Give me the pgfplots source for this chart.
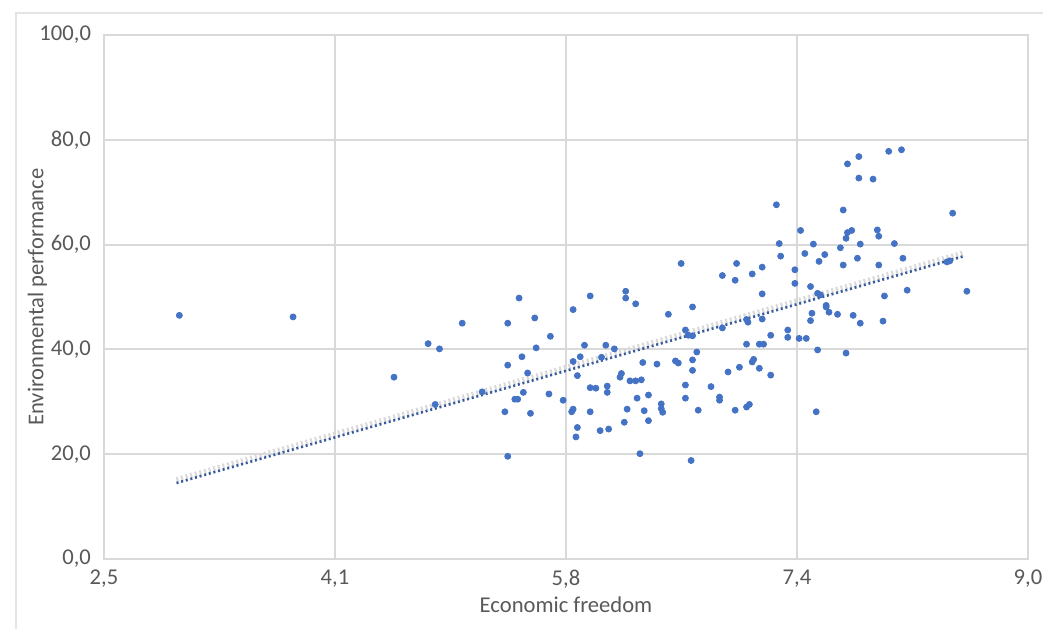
\documentclass[border=0pt]{standalone}
\usepackage{fontspec}
\setmainfont{Carlito}
\usepackage{pgfplots}
\pgfplotsset{compat=1.18}
\definecolor{txtgray}{RGB}{89,89,89}
\definecolor{gridgray}{RGB}{217,217,217}
\definecolor{ptblue}{RGB}{68,114,196}
\begin{document}
\begin{tikzpicture}
\begin{axis}[
  scale only axis,
  width=462pt, height=262pt,
  xmin=2.5, xmax=9.0, ymin=0, ymax=100,
  xtick={2.5,4.125,5.75,7.375,9.0},
  xticklabels={{2,5},{4,1},{5,8},{7,4},{9,0}},
  ytick={0,20,40,60,80,100},
  yticklabels={{0,0},{20,0},{40,0},{60,0},{80,0},{100,0}},
  grid=major,
  major grid style={gridgray, line width=1pt},
  axis line style={gridgray, line width=1pt},
  tick style={draw=none},
  ticklabel style={font=\fontsize{11.3}{13}\selectfont, text=txtgray},
  xticklabel style={yshift=-2pt},
  yticklabel style={xshift=-3pt},
  label style={font=\fontsize{11.3}{13}\selectfont, text=txtgray},
  xlabel={Economic freedom},
  ylabel={Environmental performance},
  xlabel style={at={(axis description cs:0.5,-0.088)}, anchor=center},
  ylabel style={at={(axis description cs:-0.072,0.5)}, anchor=center},
  clip=false,
]
\addplot[only marks, mark=*, mark size=1.5pt, mark options={fill=ptblue, draw=ptblue}] table {
x y
3.03 46.5
3.83 46.2
5.02 45.0
4.78 41.1
4.86 40.1
4.54 34.7
4.83 29.5
5.16 31.9
5.42 49.8
5.92 50.2
6.17 51.1
6.17 49.8
6.24 48.7
5.80 47.6
5.53 46.0
5.34 45.0
5.64 42.5
5.88 40.8
6.03 40.8
6.09 40.1
5.54 40.3
5.44 38.6
5.85 38.6
5.80 37.7
6.00 38.5
6.29 37.5
5.34 37.0
5.48 35.5
5.83 35.0
6.14 35.4
6.13 34.7
6.20 34.0
6.24 34.0
6.28 34.2
5.92 32.7
5.96 32.6
6.04 33.0
6.04 31.8
5.45 31.8
5.39 30.5
5.41 30.5
5.63 31.5
5.73 30.3
6.25 30.7
6.33 31.3
5.32 28.1
5.50 27.8
5.80 28.6
5.79 28.1
5.92 28.1
6.18 28.6
6.30 28.3
6.33 26.4
6.16 26.1
5.83 25.1
5.82 23.3
5.99 24.5
6.05 24.8
5.34 19.6
6.27 20.1
7.23 67.6
7.40 62.7
7.25 60.2
7.43 58.3
7.26 57.8
6.56 56.4
6.95 56.4
7.13 55.7
7.36 55.2
7.06 54.4
6.85 54.1
6.94 53.2
7.36 52.6
7.47 52.0
7.13 50.6
6.64 48.1
6.47 46.7
7.02 45.7
7.03 45.2
7.13 45.8
7.47 45.5
6.85 44.1
6.59 43.7
7.31 43.7
6.61 42.7
6.64 42.6
7.19 42.7
7.31 42.3
7.39 42.1
7.44 42.1
7.02 41.0
7.11 41.0
7.14 41.0
6.67 39.5
6.39 37.2
6.52 37.8
6.54 37.4
6.64 38.0
6.64 36.0
7.07 38.1
7.06 37.6
6.97 36.6
7.11 36.4
6.89 35.7
7.19 35.1
6.59 33.2
6.77 32.9
6.59 30.7
6.83 30.9
6.83 30.3
6.42 29.6
6.42 28.7
6.43 28.0
6.68 28.4
6.94 28.4
7.02 29.0
7.04 29.5
6.63 18.8
8.02 77.8
8.11 78.1
7.81 76.8
7.73 75.4
7.81 72.7
7.91 72.5
7.70 66.6
8.47 66.0
7.73 62.3
7.76 62.7
7.94 62.8
7.95 61.6
7.72 61.2
7.49 60.1
7.82 60.1
8.06 60.2
7.68 59.4
7.57 58.1
7.53 56.8
7.80 57.4
8.12 57.4
7.70 56.1
7.95 56.1
8.43 56.7
8.45 56.9
7.52 50.7
7.54 50.4
8.15 51.3
8.57 51.1
7.99 50.2
7.58 48.4
7.58 48.1
7.60 47.1
7.66 46.7
7.77 46.5
7.82 45.0
7.98 45.4
7.52 39.9
7.72 39.3
7.51 28.1
7.48 46.9
};
\addplot[gray!30, line width=2.8pt, dash pattern=on 1pt off 1.4pt] coordinates {(3.01,15.1) (8.55,58.4)};
\addplot[ptblue!80!black, line width=1.3pt, dash pattern=on 1pt off 1.4pt] coordinates {(3.01,14.5) (8.55,57.8)};
\end{axis}
\pgfresetboundingbox
\path ([xshift=-52pt,yshift=-34.5pt]current axis.south west) rectangle ([xshift=7.5pt,yshift=17.5pt]current axis.north east);
\draw[overlay, gridgray!70, line width=0.8pt] ([xshift=-44pt,yshift=-60pt]current axis.south west) |- ([xshift=20pt,yshift=11pt]current axis.north east);
\end{tikzpicture}
\end{document}
